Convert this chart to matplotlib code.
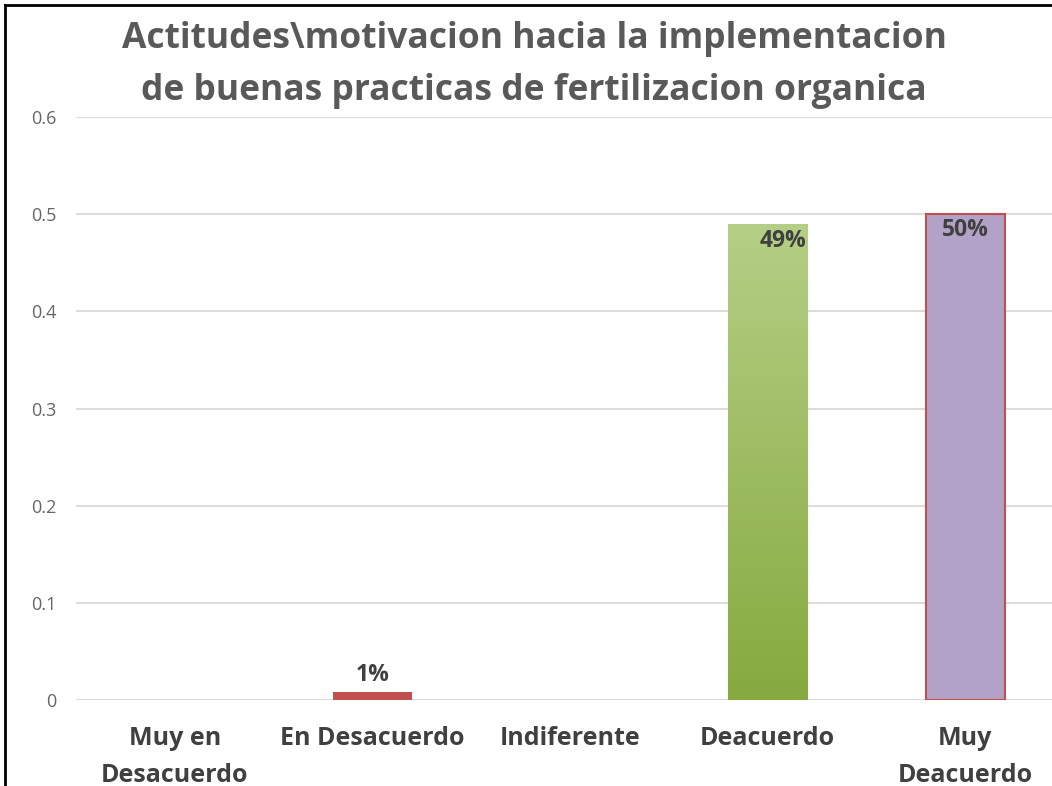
import matplotlib.pyplot as plt
import numpy as np
from matplotlib.colors import LinearSegmentedColormap

# data
categorias = ['Muy en\nDesacuerdo', 'En Desacuerdo', 'Indiferente', 'Deacuerdo', 'Muy\nDeacuerdo']
valores = [0.0, 0.008, 0.0, 0.49, 0.50]
etiquetas = ['', '1%', '', '49%', '50%']
yticks = [0, 0.1, 0.2, 0.3, 0.4, 0.5, 0.6]
ytick_labels = ['0', '0.1', '0.2', '0.3', '0.4', '0.5', '0.6']

plt.rcParams['font.family'] = ['Open Sans', 'DejaVu Sans']

fig = plt.figure(figsize=(10.52, 7.86), dpi=100)
ax = fig.add_axes([76 / 1052, 1 - 700 / 786, (1064 - 76) / 1052, (700 - 117) / 786])

x = np.arange(len(categorias))
w = 0.4
colors = ['#4F81BD', '#C0504D', '#9BBB59', 'none', '#B3A2C7']
edges = ['none', 'none', 'none', 'none', '#C0504D']
bars = ax.bar(x, valores, width=w, color=colors, edgecolor=edges, linewidth=1.5, zorder=3)

# gradient for the green bar
g = bars[3]
cmap = LinearSegmentedColormap.from_list('verde', ['#86AA3F', '#B5CF86'])
grad = np.linspace(0, 1, 256).reshape(-1, 1)
im = ax.imshow(grad, cmap=cmap, origin='lower', aspect='auto', zorder=3,
               extent=[g.get_x(), g.get_x() + g.get_width(), 0, g.get_height()])
im.set_clip_path(g)

lab_kw = dict(fontsize=16.5, fontweight='bold', color='#404040', zorder=5)
ax.text(x[1], valores[1] + 0.005, etiquetas[1], ha='center', va='bottom', **lab_kw)
ax.text(x[3] + 0.08, valores[3] - 0.005, etiquetas[3], ha='center', va='top', **lab_kw)
ax.text(x[4], valores[4] - 0.004, etiquetas[4], ha='center', va='top', **lab_kw)

ax.set_xlim(-0.5, 4.5)
ax.set_ylim(0, 0.6)
ax.set_yticks(yticks)
ax.set_yticklabels(ytick_labels, fontsize=13, color='#666666')
ax.set_xticks(x)
ax.set_xticklabels(categorias, fontsize=18, fontweight='bold', color='#404040', linespacing=1.6)
ax.tick_params(length=0)
ax.tick_params(axis='y', pad=14)
ax.tick_params(axis='x', pad=19)
ax.grid(axis='y', color='#D9D9D9', linewidth=1.3, zorder=0)
for s in ax.spines.values():
    s.set_visible(False)
ax.axhline(0, color='#D9D9D9', linewidth=1.3, zorder=2)

fig.text(534 / 1052, 1 - 65 / 786,
         'Actitudes\\motivacion hacia la implementacion\nde buenas practicas de fertilizacion organica',
         ha='center', va='center', fontsize=25.5, fontweight='bold', color='#595959', linespacing=1.58)

# black border seen on left and top of the screenshot
fig.add_artist(plt.Line2D([5 / 1052, 5 / 1052], [0, 1 - 5 / 786], color='black', linewidth=2, transform=fig.transFigure))
fig.add_artist(plt.Line2D([5 / 1052, 1], [1 - 5 / 786, 1 - 5 / 786], color='black', linewidth=2, transform=fig.transFigure))

fig.savefig('out.png', dpi=100)
